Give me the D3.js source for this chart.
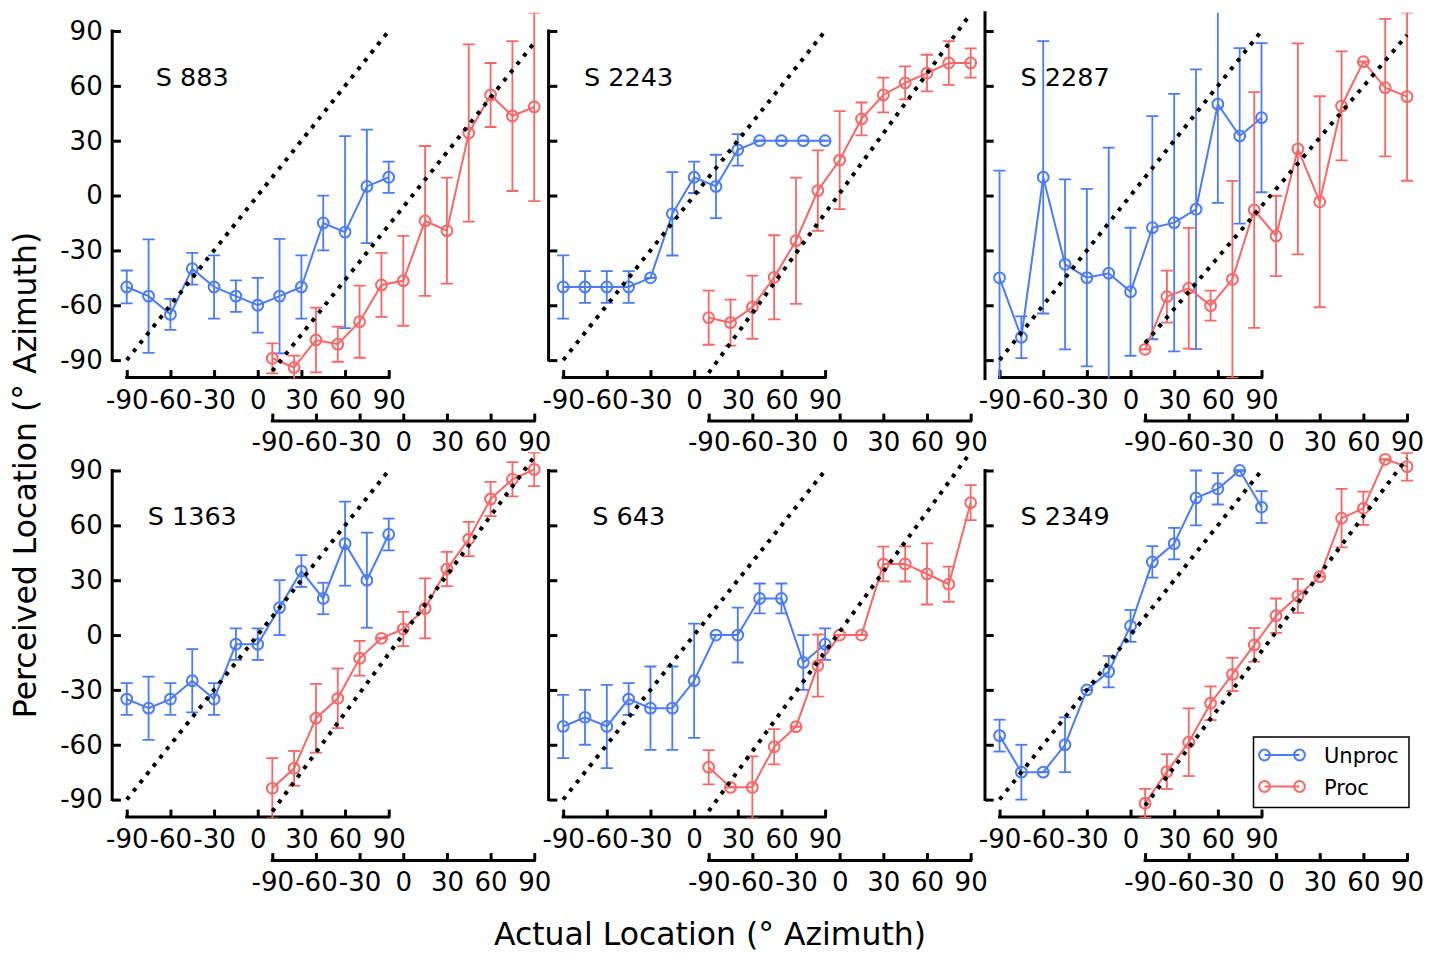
<!DOCTYPE html>
<html><head><meta charset="utf-8">
<script src="https://cdn.jsdelivr.net/npm/d3@7"></script>
<style>body{margin:0;background:#fff} text{font-family:"DejaVu Sans",sans-serif}</style>
</head><body><svg id="c" width="1439" height="955"></svg>
<script>
// ---------- data ----------
const locations = [-90,-75,-60,-45,-30,-15,0,15,30,45,60,75,90];
const tickVals = [-90,-60,-30,0,30,60,90];
const tickLabels = ["-90","-60","-30","0","30","60","90"];
const subjects = ["S 883","S 2243","S 2287","S 1363","S 643","S 2349"];
const seriesNames = ["Unproc","Proc"];
const xTitle = "Actual Location (\u00B0 Azimuth)";
const yTitle = "Perceived Location (\u00B0 Azimuth)";

const unprocMean = [
  [-50,-55,-65,-40,-50,-55,-60,-55,-50,-15,-20,5,10],
  [-50,-50,-50,-50,-45,-10,10,5,25,30,30,30,30],
  [-45,-77.5,10,-37.6,-44.9,-42.5,-52.6,-17.6,-14.8,-7.5,50,32.6,42.6],
  [-35,-40,-35,-25,-35,-5,-5,15,35,20,50,30,55],
  [-50,-45,-50,-35,-40,-40,-25,0,0,20,20,-15,-5],
  [-55,-75,-75,-60,-30,-20,5,40,50,75,80,90,70]
];
const unprocErr = [
  [9,31,8.5,8.7,17.3,8.6,15,31.3,17.3,15,52.5,31,8.5],
  [17.3,8.7,8.7,8.7,0,22.8,8.6,17.3,8.6,0,0,0,0],
  [58.6,11.4,74.5,46.5,48.5,68.7,35,61,70.4,76.5,54,48,40.8],
  [8.7,17.3,8.7,17.3,8.7,8.6,8.6,15,8.7,8.6,23,26,8.7],
  [17.3,15,22.8,8.7,22.8,22.8,31.2,0,15,8.2,8.2,15,8.6],
  [8.7,15,0,15,0,8.6,8.7,8.6,8.6,15,8.6,0,8.7]
];
const procMean = [
  [-89,-94,-79,-81.3,-69,-48.9,-46.6,-13.9,-19.2,34.2,55,43.5,48.5],
  [-66.8,-69.5,-61.1,-44.7,-24.7,2.7,19.4,41.9,55,61.6,67,72.5,72.5],
  [-84.1,-55.3,-50.7,-60.2,-45.8,-7.9,-22.1,25.5,-3.4,49,73.2,59,54.1],
  [-83.8,-72.9,-45.5,-34.6,-12.7,-1.8,3.3,14.6,36.1,52.5,74.4,85.2,90.6],
  [-72.3,-83.3,-83.3,-61.1,-50.1,-16.7,0,0,38.9,38.9,33.4,27.8,72.4],
  [-92,-74.7,-58.6,-37.3,-21.5,-5.4,10.6,21.4,31.9,63.9,69.3,96.1,92.1]
];
const procErr = [
  [8.2,6.5,17.7,9.6,19.7,17.5,24.6,41,29,48.5,17.5,41,51.5],
  [14.8,12.6,17.3,23,34.5,22,26.8,9,9.5,9,10,12,8],
  [0,14.2,33,8.2,53.8,64.5,22,57.7,57.7,29.8,0,37.6,46],
  [16.5,9.5,18.8,16.3,9.5,0,9.4,16.4,9.4,9.4,9.4,9.4,9.2],
  [9.4,0,17,9.6,0,17,0,0,9.5,9.6,16.7,9.6,9.6],
  [7.9,9.5,18.5,9.2,9.1,9.2,9.4,9.3,0,16,9.1,0,7.6]
];
// dotted reference line for the Proc axis: value at x=-90 and x=90
const procRefLo = [-96,-97,-80.7,-96.5,-96.3,-93.3];
const procRefHi = [83.5,99.5,87.8,97.5,100,96.7];

// ---------- layout ----------
const BLUE = "#4a7cf8", RED = "#f96666";
const colLeft = [112.2, 548.6, 985.0];
const axW = 436.6;
const rowTop = [12.7, 452.2];
const axH = 365.7;
const redOffset = 43.5;
const svg = d3.select("#c");

function drawAxisStyle(g){
  g.select(".domain").remove();
  g.selectAll(".tick line").attr("stroke","#000").attr("stroke-width",3);
  g.selectAll(".tick text").attr("fill","#000").attr("font-size",26)
   .attr("font-family","DejaVu Sans");
}

subjects.forEach((name, i) => {
  const col = i % 3, row = Math.floor(i / 3);
  const x = d3.scaleLinear().domain([-100,200]).range([colLeft[col], colLeft[col]+axW]);
  const xr = d3.scaleLinear().domain([-200,100]).range([colLeft[col], colLeft[col]+axW]);
  const y = d3.scaleLinear().domain([-100,100]).range([rowTop[row]+axH, rowTop[row]]);
  const clipId = "clip"+i;
  svg.append("clipPath").attr("id",clipId).append("rect")
    .attr("x",x(-100)).attr("y",y(100)).attr("width",axW).attr("height",axH);

  // y axis
  const ya = svg.append("g").attr("transform",`translate(${x(-100)},0)`)
    .call(d3.axisLeft(y).tickValues(tickVals).tickFormat((d,k)=>col===0?tickLabels[k]:"")
      .tickSize(-8.7).tickPadding(9.5));
  drawAxisStyle(ya);
  const yb = i===2 ? [-100,100] : [-90,90];
  svg.append("line").attr("x1",x(-100)).attr("x2",x(-100))
    .attr("y1",y(yb[0])).attr("y2",y(yb[1])).attr("stroke","#000").attr("stroke-width",3)
    .attr("stroke-linecap","square");

  // blue x axis
  const by = y(-100) - 0.8;
  const xa = svg.append("g").attr("transform",`translate(0,${by})`)
    .call(d3.axisBottom(x).tickValues(tickVals).tickFormat((d,k)=>tickLabels[k]).tickSize(-7.5));
  drawAxisStyle(xa);
  xa.selectAll(".tick text").attr("y",31).attr("dy",null);
  svg.append("line").attr("x1",x(-90)).attr("x2",x(90)).attr("y1",by).attr("y2",by)
    .attr("stroke","#000").attr("stroke-width",3).attr("stroke-linecap","square");

  // red x axis
  const ry = by + redOffset;
  const ra = svg.append("g").attr("transform",`translate(0,${ry})`)
    .call(d3.axisBottom(xr).tickValues(tickVals).tickFormat((d,k)=>tickLabels[k]).tickSize(-7.5));
  drawAxisStyle(ra);
  ra.selectAll(".tick text").attr("y",30).attr("dy",null);
  svg.append("line").attr("x1",xr(-90)).attr("x2",xr(90)).attr("y1",ry).attr("y2",ry)
    .attr("stroke","#000").attr("stroke-width",3).attr("stroke-linecap","square");

  const plot = svg.append("g").attr("clip-path",`url(#${clipId})`);

  function series(sx, means, errs, color){
    const g = plot.append("g");
    locations.forEach((loc,k)=>{
      const cx = sx(loc), e = errs[k], m = means[k];
      g.append("line").attr("x1",cx).attr("x2",cx).attr("y1",y(m-e)).attr("y2",y(m+e))
        .attr("stroke",color).attr("stroke-width",1.8);
      [m-e, m+e].forEach(v=>{
        g.append("line").attr("x1",cx-6).attr("x2",cx+6).attr("y1",y(v)).attr("y2",y(v))
          .attr("stroke",color).attr("stroke-width",1.8);
      });
    });
    g.append("path").datum(means)
      .attr("d", d3.line().x((d,k)=>sx(locations[k])).y(d=>y(d)))
      .attr("fill","none").attr("stroke",color).attr("stroke-width",2);
    g.selectAll("circle.m").data(means).enter().append("circle")
      .attr("cx",(d,k)=>sx(locations[k])).attr("cy",d=>y(d)).attr("r",5.4)
      .attr("fill","none").attr("stroke",color).attr("stroke-width",2);
  }
  series(x, unprocMean[i], unprocErr[i], BLUE);
  series(xr, procMean[i], procErr[i], RED);

  // dotted identity lines
  plot.append("line").attr("x1",x(-90)).attr("y1",y(-90)).attr("x2",x(90)).attr("y2",y(90))
    .attr("stroke","#000").attr("stroke-width",4).attr("stroke-dasharray","4,6.6");
  plot.append("line").attr("x1",xr(-90)).attr("y1",y(procRefLo[i])).attr("x2",xr(90)).attr("y2",y(procRefHi[i]))
    .attr("stroke","#000").attr("stroke-width",4).attr("stroke-dasharray","4,6.6");

  svg.append("text").attr("x",x(-45)).attr("y",y(60)).attr("text-anchor","middle")
    .attr("font-size",25.5).text(name);

  if (i === 5) {
    const lg = svg.append("g");
    lg.append("rect").attr("x",1253.5).attr("y",737).attr("width",155.5).attr("height",70.5)
      .attr("fill","#fff").attr("stroke","#000").attr("stroke-width",1.5);
    [BLUE, RED].forEach((c,k)=>{
      const ly = 755 + k*31.5;
      lg.append("line").attr("x1",1264.5).attr("x2",1299.5).attr("y1",ly).attr("y2",ly)
        .attr("stroke",c).attr("stroke-width",2);
      [1264.5,1299.5].forEach(cx=>lg.append("circle").attr("cx",cx).attr("cy",ly).attr("r",5.4)
        .attr("fill","none").attr("stroke",c).attr("stroke-width",2));
      lg.append("text").attr("x",1324).attr("y",ly+8).attr("font-size",21).text(seriesNames[k]);
    });
  }
});

// axis titles
svg.append("text").attr("x",710).attr("y",945).attr("font-size",31.5)
  .attr("text-anchor","middle").text(xTitle);
svg.append("text").attr("transform","translate(36,475) rotate(-90)").attr("font-size",31.5)
  .attr("text-anchor","middle").text(yTitle);
</script></body></html>
